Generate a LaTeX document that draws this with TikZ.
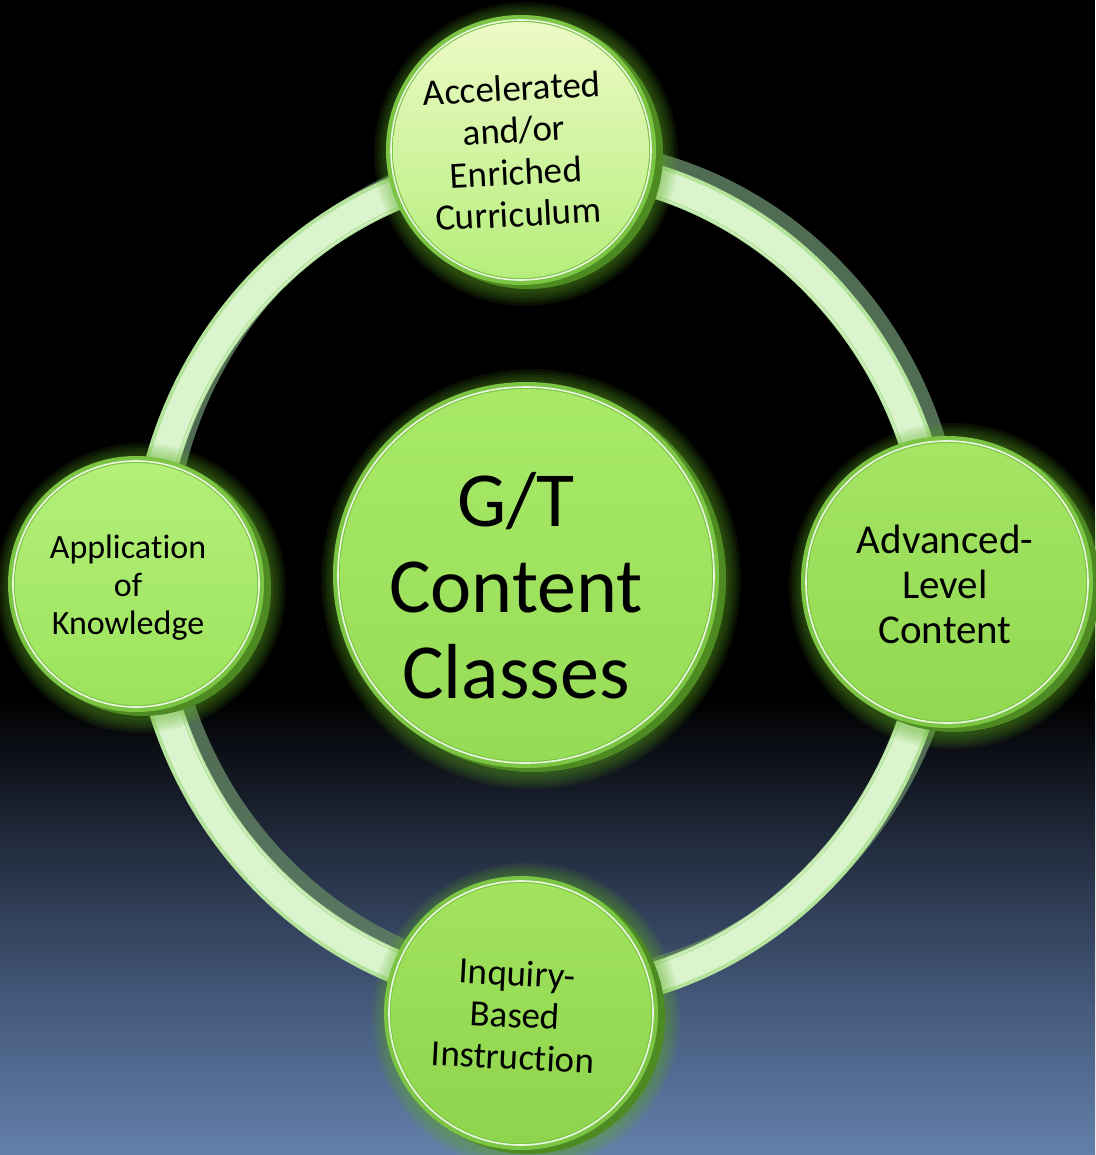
\documentclass[tikz,border=0pt]{standalone}
\usepackage{fontspec}
\setmainfont{Carlito}[Ligatures={NoCommon}]
\definecolor{bgA}{HTML}{232D40}
\definecolor{bgB}{HTML}{44587A}
\definecolor{bgC}{HTML}{6380AA}
\definecolor{glowc}{HTML}{5FAE22}
\definecolor{sidec}{HTML}{4E8A22}
\definecolor{rimc}{HTML}{7CC443}
\definecolor{ringshadow}{HTML}{5F7F62}
\definecolor{ringedge}{HTML}{B4E49C}
\definecolor{ringfill}{HTML}{DAF4CE}
\definecolor{cTa}{HTML}{A8EA68}\definecolor{cTb}{HTML}{96DB56}
\definecolor{aTa}{HTML}{EDFAC6}\definecolor{aTb}{HTML}{B6EE7C}
\definecolor{lTa}{HTML}{B4EF7A}\definecolor{lTb}{HTML}{9CE35C}
\definecolor{rTa}{HTML}{A4E564}\definecolor{rTb}{HTML}{92D851}
\definecolor{bTa}{HTML}{A2E35E}\definecolor{bTb}{HTML}{8ED44C}
\newcommand\gtdisc[5]{%
  \foreach \k in {0,...,5}{\fill[glowc, opacity=0.09] (#1+5,#2+4) circle ({#3+17-2.6*\k});}
  \fill[sidec] (#1+7,#2+4) circle (#3);
  \fill[rimc] (#1,#2) circle (#3);
  \shade[top color=#4, bottom color=#5] (#1,#2) circle ({#3-7});
  \draw[white, line width=1.6, opacity=0.85] (#1,#2) circle ({#3-5});
}
\tikzset{lbl/.style={align=center, inner sep=0pt, text=black}}
\begin{document}
\begin{tikzpicture}[x=1pt,y=-1pt]
\useasboundingbox (0,0) rectangle (1095,1155);
% background
\fill[black] (0,0) rectangle (1095,701);
\shade[top color=black, bottom color=bgA] (0,700) rectangle (1095,850.5);
\shade[top color=bgA, bottom color=bgB] (0,850) rectangle (1095,1000.5);
\shade[top color=bgB, bottom color=bgC] (0,1000) rectangle (1095,1155);
% ring
\draw[ringshadow, opacity=0.85, line width=30] (554,570) ellipse [x radius=396, y radius=416];
\draw[ringedge, line width=34] (542,580) ellipse [x radius=396, y radius=416];
\draw[ringfill, line width=26] (542,580) ellipse [x radius=396, y radius=416];
\draw[white, opacity=0.5, line width=1] (542,580) ellipse [x radius=381, y radius=401];
% discs
\gtdisc{526}{575}{193}{cTa}{cTb}
\gtdisc{521}{150}{135}{aTa}{aTb}
\gtdisc{136}{584}{128}{lTa}{lTb}
\gtdisc{947}{582}{146}{rTa}{rTb}
\gtdisc{521}{1013}{137}{bTa}{bTb}
% labels
\node[lbl, font=\fontsize{78}{86}\selectfont] (gt) at (516,586) {G/T\\Content\\Classes};
\node[lbl, rotate=3, font=\fontsize{37}{42}\selectfont] (acc) at (515,151) {Accelerated\\and/or\\Enriched\\Curriculum};
\node[lbl, font=\fontsize{34}{38}\selectfont] (app) at (128,588) {Applica\kern0pt tion\\of\\Knowledge};
\node[lbl, font=\fontsize{41}{45}\selectfont] (adv) at (945,584) {Advanced-\\Level\\Content};
\node[lbl, rotate=-3, font=\fontsize{37}{42}\selectfont] (inq) at (515,1015) {Inquiry-\\Based\\Instruc\kern0pt tion};
\end{tikzpicture}
\end{document}
